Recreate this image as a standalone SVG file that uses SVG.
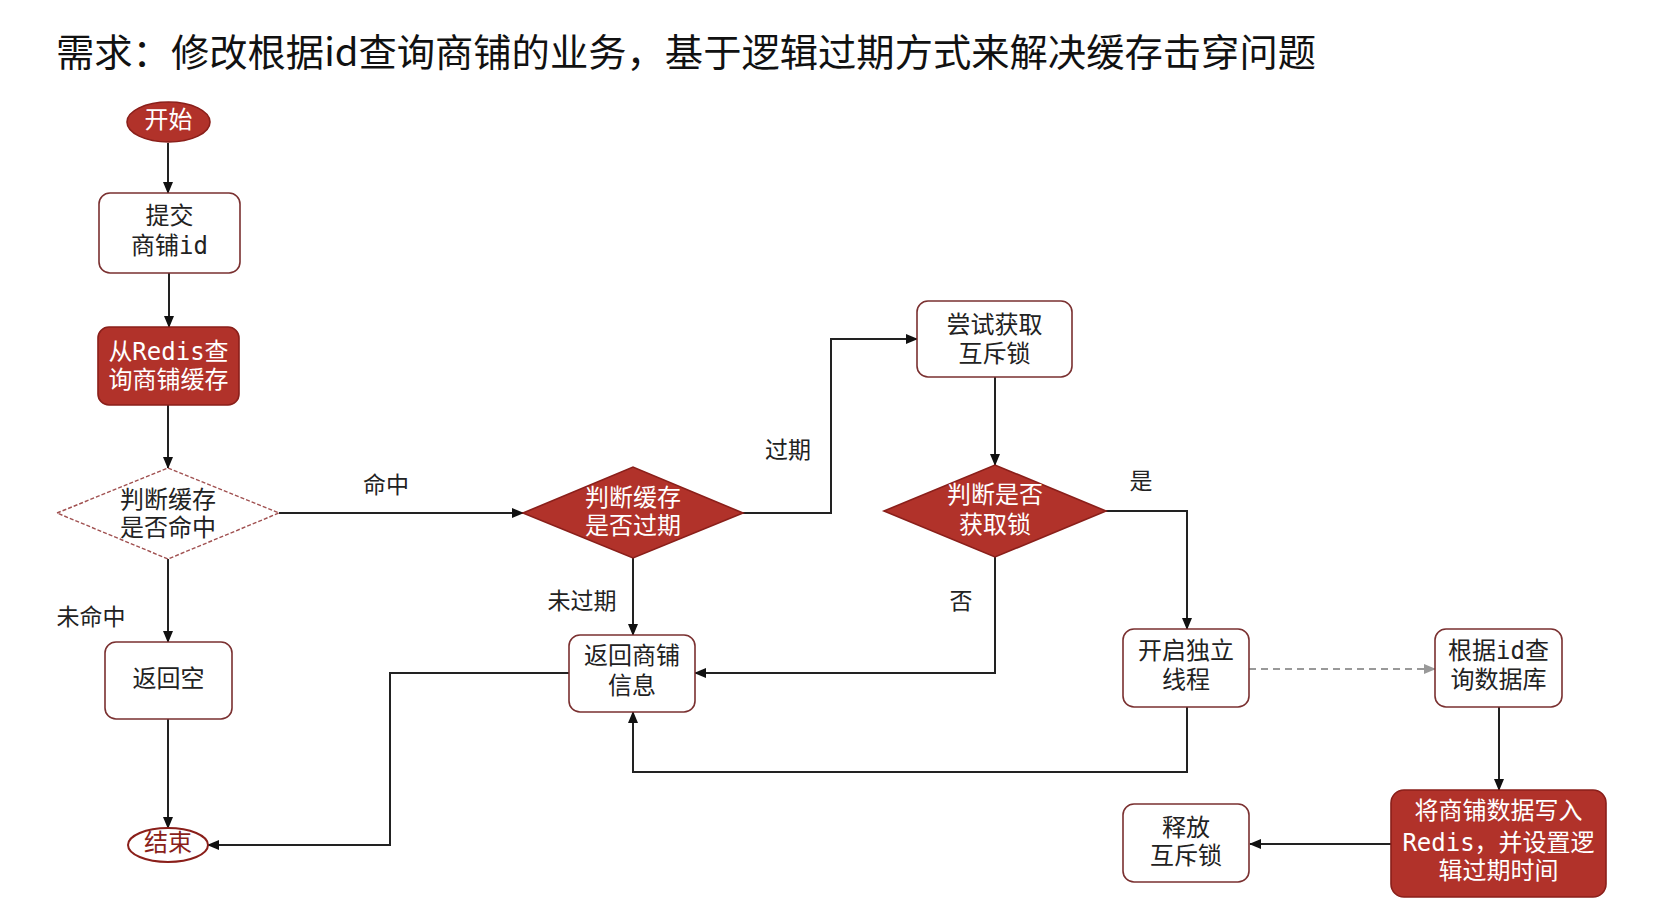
<svg xmlns="http://www.w3.org/2000/svg" width="1660" height="920" viewBox="0 0 1660 920">
<defs>
<style>
.t{font-family:"DejaVu Sans Mono","Noto Sans CJK SC",monospace;font-size:24px;text-anchor:middle;fill:#222}
.w{fill:#fff}
.lb{font-family:"Noto Sans CJK SC",sans-serif;font-size:23px;text-anchor:middle;fill:#222}
.box{fill:#fff;stroke:#7a3030;stroke-width:1.6}
.red{fill:#b1322a;stroke:#8a1f1a;stroke-width:1.6}
.e{fill:none;stroke:#222;stroke-width:2}
.g{fill:none;stroke:#999;stroke-width:2;stroke-dasharray:7,5}
</style>
<marker id="a" viewBox="0 0 12 10" refX="11" refY="5" markerWidth="12" markerHeight="10" markerUnits="userSpaceOnUse" orient="auto"><path d="M0,0 L12,5 L0,10 z" fill="#111"/></marker>
<marker id="ag" viewBox="0 0 12 10" refX="11" refY="5" markerWidth="12" markerHeight="10" markerUnits="userSpaceOnUse" orient="auto"><path d="M0,0 L12,5 L0,10 z" fill="#999"/></marker>
</defs>
<rect width="1660" height="920" fill="#fff"/>
<text x="56" y="66" font-family="Noto Sans CJK SC,sans-serif" font-size="38" fill="#111" textLength="1260" lengthAdjust="spacingAndGlyphs">需求：修改根据id查询商铺的业务，基于逻辑过期方式来解决缓存击穿问题</text>

<g id="connectors">
<path class="e" d="M168,143 V193" marker-end="url(#a)"/>
<path class="e" d="M169,273 V327" marker-end="url(#a)"/>
<path class="e" d="M168,405 V468" marker-end="url(#a)"/>
<path class="e" d="M279,513 H523" marker-end="url(#a)"/>
<path class="e" d="M168,559 V642" marker-end="url(#a)"/>
<path class="e" d="M168,719 V828" marker-end="url(#a)"/>
<path class="e" d="M633,558 V635" marker-end="url(#a)"/>
<path class="e" d="M743,513 H831 V339 H917" marker-end="url(#a)"/>
<path class="e" d="M995,377 V465" marker-end="url(#a)"/>
<path class="e" d="M1106,511 H1187 V629" marker-end="url(#a)"/>
<path class="e" d="M995,557 V673 H695" marker-end="url(#a)"/>
<path class="e" d="M1187,707 V772 H633 V712" marker-end="url(#a)"/>
<path class="e" d="M569,673 H390 V845 H208" marker-end="url(#a)"/>
<path class="g" d="M1249,669 H1435" marker-end="url(#ag)"/>
<path class="e" d="M1499,707 V790" marker-end="url(#a)"/>
<path class="e" d="M1391,844 H1250" marker-end="url(#a)"/>
<text class="lb" x="386" y="493">命中</text>
<text class="lb" x="788" y="458">过期</text>
<text class="lb" x="1141" y="489">是</text>
<text class="lb" x="961" y="609">否</text>
<text class="lb" x="91" y="625">未命中</text>
<text class="lb" x="582" y="609">未过期</text>
</g>

<g id="start">
<ellipse cx="168.5" cy="122" rx="41.5" ry="20" class="red"/>
<text class="t w" x="168.5" y="128">开始</text>
</g>
<g id="submit">
<rect x="99" y="193" width="141" height="80" rx="11" class="box"/>
<text class="t" x="169.5" y="224">提交</text>
<text class="t" x="169.5" y="254">商铺id</text>
</g>
<g id="queryRedis">
<rect x="98" y="327" width="141" height="78" rx="11" class="red"/>
<text class="t w" x="168.5" y="360">从Redis查</text>
<text class="t w" x="168.5" y="388">询商铺缓存</text>
</g>
<g id="hitCheck">
<polygon points="57,513 168,468 279,513 168,559" fill="#fff" stroke="#a05050" stroke-width="1.4" stroke-dasharray="4,2"/>
<text class="t" x="168" y="508">判断缓存</text>
<text class="t" x="168" y="536">是否命中</text>
</g>
<g id="returnNull">
<rect x="105" y="642" width="127" height="77" rx="11" class="box"/>
<text class="t" x="168.5" y="687">返回空</text>
</g>
<g id="end">
<ellipse cx="168" cy="845" rx="40" ry="17" fill="#fff" stroke="#8a1f1a" stroke-width="2"/>
<text class="t" x="168" y="851" style="fill:#8a1f1a">结束</text>
</g>
<g id="expireCheck">
<polygon points="523,513 633,467 743,513 633,558" class="red"/>
<text class="t w" x="633" y="506">判断缓存</text>
<text class="t w" x="633" y="534">是否过期</text>
</g>
<g id="returnShop">
<rect x="569" y="635" width="126" height="77" rx="11" class="box"/>
<text class="t" x="632" y="664">返回商铺</text>
<text class="t" x="632" y="694">信息</text>
</g>
<g id="tryLock">
<rect x="917" y="301" width="155" height="76" rx="11" class="box"/>
<text class="t" x="994.5" y="333">尝试获取</text>
<text class="t" x="994.5" y="362">互斥锁</text>
</g>
<g id="lockCheck">
<polygon points="884,511 995,465 1106,511 995,557" class="red"/>
<text class="t w" x="995" y="503">判断是否</text>
<text class="t w" x="995" y="533">获取锁</text>
</g>
<g id="newThread">
<rect x="1123" y="629" width="126" height="78" rx="11" class="box"/>
<text class="t" x="1186" y="659">开启独立</text>
<text class="t" x="1186" y="688">线程</text>
</g>
<g id="queryDb">
<rect x="1435" y="629" width="127" height="78" rx="11" class="box"/>
<text class="t" x="1498.5" y="659">根据id查</text>
<text class="t" x="1498.5" y="688">询数据库</text>
</g>
<g id="writeRedis">
<rect x="1391" y="790" width="215" height="107" rx="13" class="red"/>
<text class="t w" x="1498.5" y="819">将商铺数据写入</text>
<text class="t w" x="1498.5" y="851">Redis，并设置逻</text>
<text class="t w" x="1498.5" y="879">辑过期时间</text>
</g>
<g id="unlock">
<rect x="1123" y="804" width="126" height="78" rx="11" class="box"/>
<text class="t" x="1186" y="836">释放</text>
<text class="t" x="1186" y="864">互斥锁</text>
</g>
</svg>
